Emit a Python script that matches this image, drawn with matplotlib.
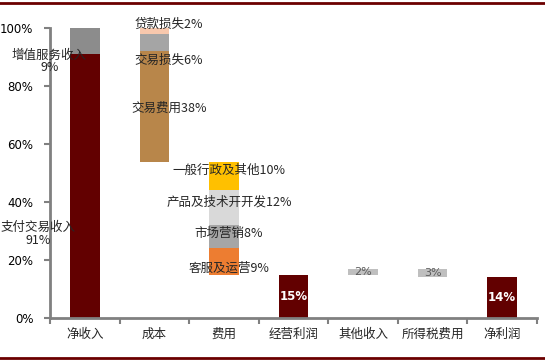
import numpy as np
import matplotlib
matplotlib.use('Agg')
import matplotlib.pyplot as plt
from matplotlib.lines import Line2D

plt.rcParams['font.family'] = ['Noto Sans CJK SC', 'DejaVu Sans']

# categories on the x axis
categories = ['净收入', '成本', '费用', '经营利润', '其他收入', '所得税费用', '净利润']

# revenue split (stacked from 0)
rev_names = ['支付交易收入', '增值服务收入']
rev_vals = [91, 9]
# cost split (hangs down from total revenue)
cost_names = ['交易费用', '交易损失', '贷款损失']
cost_vals = [38, 6, 2]
# expense split (hangs down from gross profit)
exp_names = ['客服及运营', '市场营销', '产品及技术开开发', '一般行政及其他']
exp_vals = [9, 8, 12, 10]
op_profit = 15
other_income = 2
income_tax = 3
net_profit = 14

DARK = '#620000'
rev_colors = [DARK, '#8c8c8c']
cost_colors = ['#b8864a', '#a5a5a5', '#f8c8ad']
exp_colors = ['#ed7d31', '#a6a6a6', '#d9d9d9', '#ffc000']
TXT = '#262626'

fig = plt.figure(figsize=(5.45, 3.61), dpi=100)
ax = fig.add_axes([0.092, 0.119, 0.893, 0.803])
w = 0.42

# net revenue
bottom = 0
for v, c in zip(rev_vals, rev_colors):
    ax.bar(0, v, w, bottom=bottom, color=c, zorder=2)
    bottom += v
total = bottom

# cost, stacked upward from (total - sum of cost)
cost_base = total - sum(cost_vals)
b = cost_base
cost_mid = []
for v, c in zip(cost_vals, cost_colors):
    ax.bar(1, v, w, bottom=b, color=c, zorder=2)
    cost_mid.append(b + v / 2)
    b += v

# expenses
exp_base = cost_base - sum(exp_vals)
b = exp_base
exp_mid = []
for v, c in zip(exp_vals, exp_colors):
    ax.bar(2, v, w, bottom=b, color=c, zorder=2)
    exp_mid.append(b + v / 2)
    b += v

# operating profit, other income, tax, net profit
ax.bar(3, op_profit, w, color=DARK, zorder=2)
ax.bar(4, other_income, w, bottom=op_profit, color='#bfbfbf', zorder=2)
ax.bar(5, income_tax, w, bottom=op_profit + other_income - income_tax, color='#bfbfbf', zorder=2)
ax.bar(6, net_profit, w, color=DARK, zorder=2)

# labels
fs = 9
ax.text(-0.51, 88.5, '%s\n%d%%' % (rev_names[1], rev_vals[1]), ha='center', va='center',
        fontsize=fs, color=TXT, linespacing=1.0)
ax.text(-0.67, 29, '%s\n%d%%' % (rev_names[0], rev_vals[0]), ha='center', va='center',
        fontsize=fs, color=TXT, linespacing=1.0)
cost_dy = [-0.5, -6, 2.4]
for n, v, m, dy in zip(cost_names, cost_vals, cost_mid, cost_dy):
    ax.text(1.21, m + dy, '%s%d%%' % (n, v), ha='center', va='center', fontsize=fs, color=TXT)
exp_dy = [-2.3, 1.3, 2, 2]
for n, v, m, dy in zip(exp_names, exp_vals, exp_mid, exp_dy):
    ax.text(2.07, m + dy, '%s%d%%' % (n, v), ha='center', va='center', fontsize=fs, color=TXT)
ax.text(3, op_profit / 2, '%d%%' % op_profit, ha='center', va='center', fontsize=8.5,
        color='white', fontweight='bold', family='DejaVu Sans')
ax.text(6, net_profit / 2, '%d%%' % net_profit, ha='center', va='center', fontsize=8.5,
        color='white', fontweight='bold', family='DejaVu Sans')
ax.text(4, op_profit + other_income / 2, '%d%%' % other_income, ha='center', va='center',
        fontsize=8, color='#595959', family='DejaVu Sans')
ax.text(5, op_profit + other_income - income_tax / 2, '%d%%' % income_tax, ha='center',
        va='center', fontsize=8, color='#595959', family='DejaVu Sans')

# axes styling
ax.set_xlim(-0.5, 6.5)
ax.set_ylim(0, 100)
ax.set_yticks(np.arange(0, 101, 20))
ax.set_yticklabels(['%d%%' % t for t in range(0, 101, 20)], family='DejaVu Sans', fontsize=8.5)
ax.set_xticks(range(len(categories)))
ax.set_xticklabels(categories, fontsize=9, color=TXT)
ax.set_xticks(np.arange(-0.5, 7, 1), minor=True)
ax.tick_params(axis='x', which='major', length=0, pad=7)
ax.tick_params(axis='x', which='minor', length=4, width=1.5, color='#808080')
ax.tick_params(axis='y', length=4, width=1.5, color='#808080', pad=8)
for s in ['top', 'right']:
    ax.spines[s].set_visible(False)
for s in ['left', 'bottom']:
    ax.spines[s].set_color('#808080')
    ax.spines[s].set_linewidth(2)

# decorative rules at the top and bottom of the figure
fig.add_artist(Line2D([0, 1], [0.991, 0.991], color='#6b0000', lw=2, transform=fig.transFigure))
fig.add_artist(Line2D([0, 1], [0.008, 0.008], color='#6b0000', lw=2, transform=fig.transFigure))

fig.savefig('out.png', dpi=100)
